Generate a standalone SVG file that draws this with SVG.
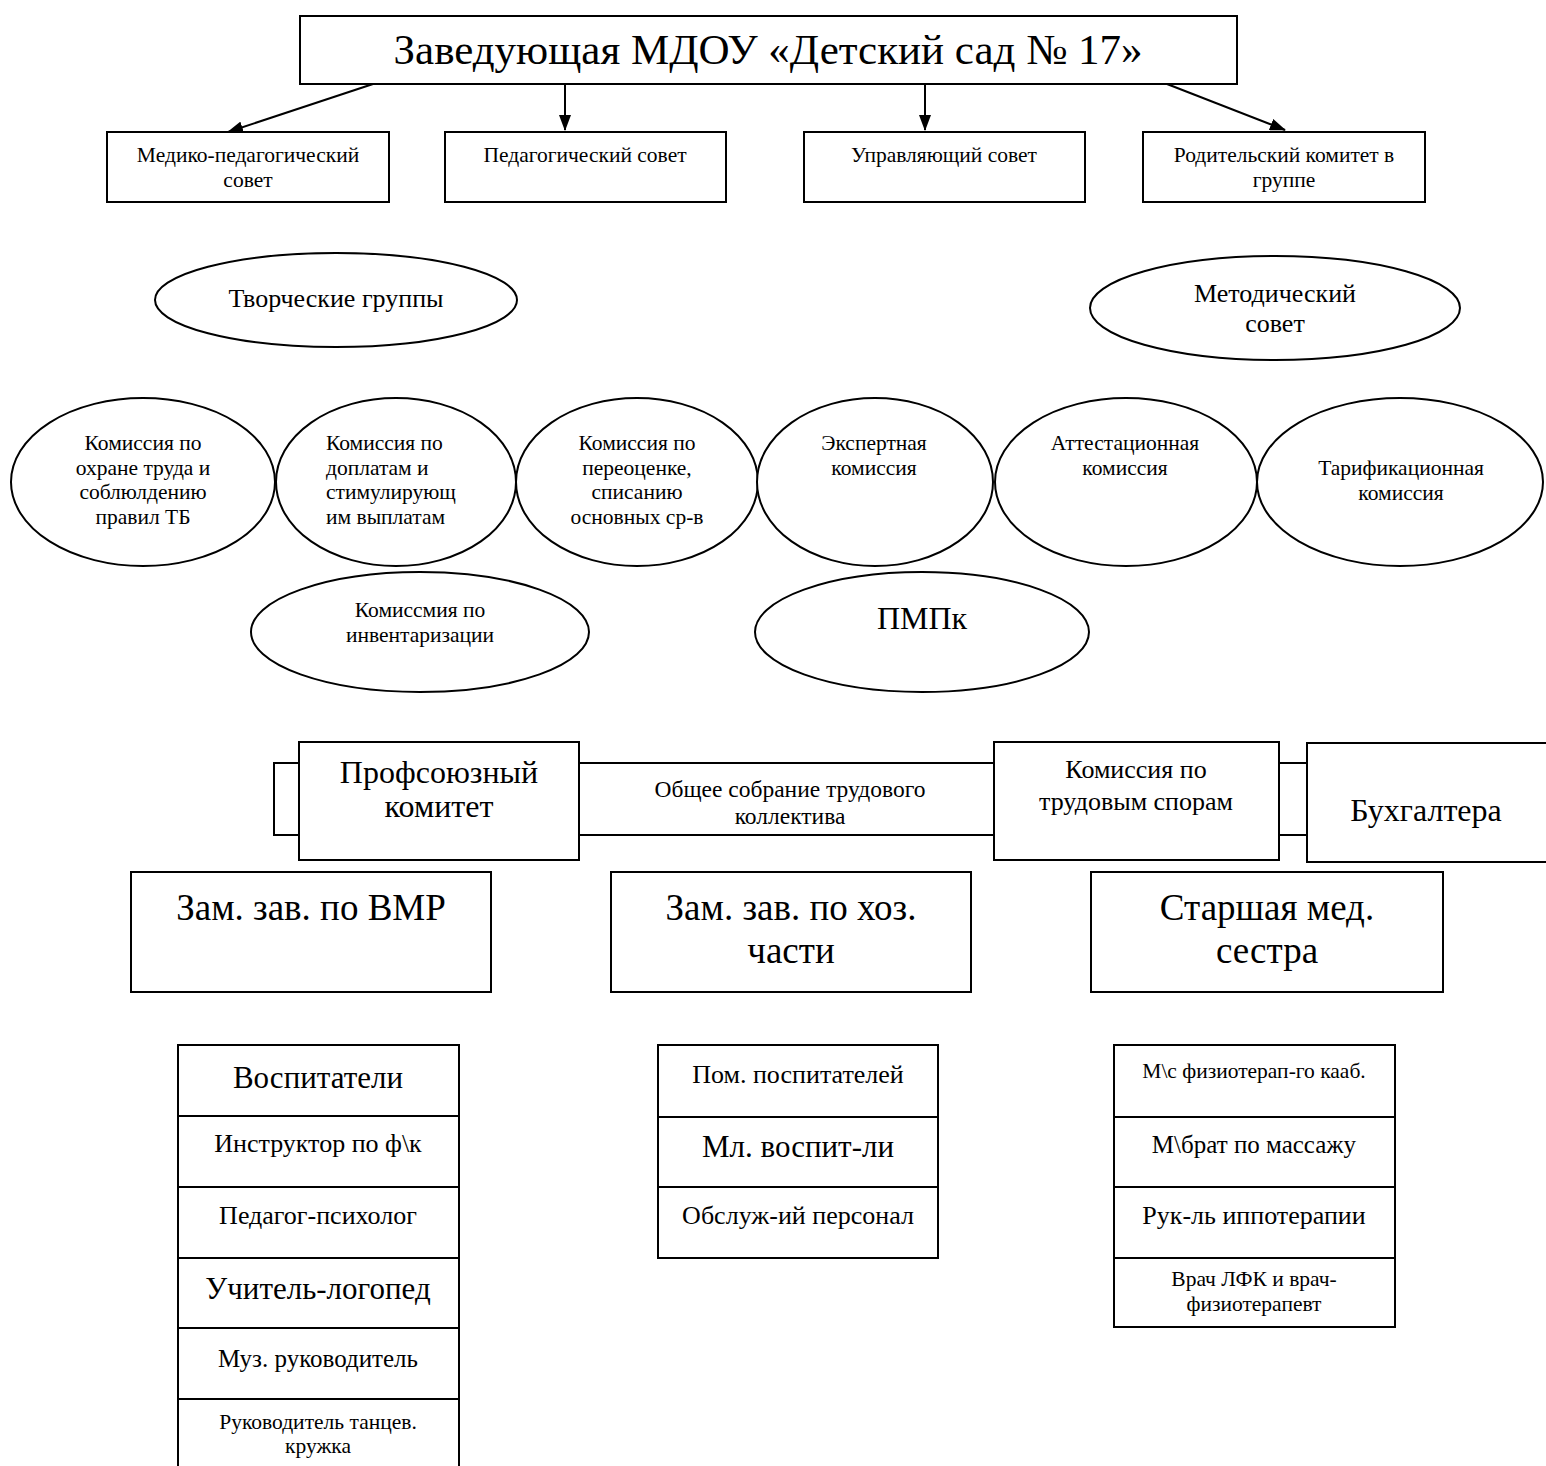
<svg xmlns="http://www.w3.org/2000/svg" width="1546" height="1466" viewBox="0 0 1546 1466">
<defs>
<marker id="ah" markerWidth="16" markerHeight="12" refX="15" refY="6" orient="auto" markerUnits="userSpaceOnUse">
<path d="M0,0 L16,6 L0,12 Z" fill="#000"/>
</marker>
<style>
.b{fill:#fff;stroke:#000;stroke-width:2}
.t{font-family:"Liberation Serif","Times New Roman",serif;fill:#000;text-anchor:middle}
.l{text-anchor:start}
.s43{font-size:43px}.s37{font-size:37px}.s32{font-size:32px}.s31{font-size:31px}.s26{font-size:26px}.s25{font-size:25px}.s23{font-size:23.5px}.s21{font-size:21.5px}
.c{stroke:#000;stroke-width:2;fill:none}
</style>
</defs>
<rect width="1546" height="1466" fill="#fff"/>

<g id="head">
<rect class="b" x="300" y="16" width="937" height="68"/>
<text class="t s43" x="768" y="64">Заведующая МДОУ «Детский сад № 17»</text>
</g>

<g id="connectors">
<line class="c" x1="373" y1="84" x2="228" y2="132" marker-end="url(#ah)"/>
<line class="c" x1="565" y1="84" x2="565" y2="130" marker-end="url(#ah)"/>
<line class="c" x1="925" y1="84" x2="925" y2="130" marker-end="url(#ah)"/>
<line class="c" x1="1167" y1="84" x2="1285" y2="130" marker-end="url(#ah)"/>
</g>

<g id="medped">
<rect class="b" x="107" y="132" width="282" height="70"/>
<text class="t s21" x="248" y="162">Медико-педагогический</text>
<text class="t s21" x="248" y="187">совет</text>
</g>
<g id="pedsovet">
<rect class="b" x="445" y="132" width="281" height="70"/>
<text class="t s21" x="585" y="162">Педагогический совет</text>
</g>
<g id="upravsovet">
<rect class="b" x="804" y="132" width="281" height="70"/>
<text class="t s21" x="944" y="162">Управляющий совет</text>
</g>
<g id="roditkom">
<rect class="b" x="1143" y="132" width="282" height="70"/>
<text class="t s21" x="1284" y="162">Родительский комитет в</text>
<text class="t s21" x="1284" y="187">группе</text>
</g>

<g id="tvorch">
<ellipse class="b" cx="336" cy="300" rx="181" ry="47"/>
<text class="t s26" x="336" y="307">Творческие группы</text>
</g>
<g id="metodsovet">
<ellipse class="b" cx="1275" cy="308" rx="185" ry="52"/>
<text class="t s26" x="1275" y="302">Методический</text>
<text class="t s26" x="1275" y="332">совет</text>
</g>

<g id="kom-ohrana">
<ellipse class="b" cx="143" cy="482" rx="132" ry="84"/>
<text class="t s21" x="143" y="450">Комиссия по</text>
<text class="t s21" x="143" y="475">охране труда и</text>
<text class="t s21" x="143" y="499">соблюлдению</text>
<text class="t s21" x="143" y="524">правил ТБ</text>
</g>
<g id="kom-doplaty">
<ellipse class="b" cx="396" cy="482" rx="120" ry="84"/>
<text class="t s21 l" x="326" y="450">Комиссия по</text>
<text class="t s21 l" x="326" y="475">доплатам и</text>
<text class="t s21 l" x="326" y="499">стимулирующ</text>
<text class="t s21 l" x="326" y="524">им выплатам</text>
</g>
<g id="kom-pereocenka">
<ellipse class="b" cx="637" cy="482" rx="121" ry="84"/>
<text class="t s21" x="637" y="450">Комиссия по</text>
<text class="t s21" x="637" y="475">переоценке,</text>
<text class="t s21" x="637" y="499">списанию</text>
<text class="t s21" x="637" y="524">основных ср-в</text>
</g>
<g id="kom-ekspert">
<ellipse class="b" cx="875" cy="482" rx="118" ry="84"/>
<text class="t s21" x="874" y="450">Экспертная</text>
<text class="t s21" x="874" y="475">комиссия</text>
</g>
<g id="kom-attest">
<ellipse class="b" cx="1126" cy="482" rx="131" ry="84"/>
<text class="t s21" x="1125" y="450">Аттестационная</text>
<text class="t s21" x="1125" y="475">комиссия</text>
</g>
<g id="kom-tarif">
<ellipse class="b" cx="1400" cy="482" rx="143" ry="84"/>
<text class="t s21" x="1401" y="475">Тарификационная</text>
<text class="t s21" x="1401" y="500">комиссия</text>
</g>
<g id="kom-invent">
<ellipse class="b" cx="420" cy="632" rx="169" ry="60"/>
<text class="t s21" x="420" y="617">Комиссмия по</text>
<text class="t s21" x="420" y="642">инвентаризации</text>
</g>
<g id="pmpk">
<ellipse class="b" cx="922" cy="632" rx="167" ry="60"/>
<text class="t s32" x="922" y="629">ПМПк</text>
</g>

<g id="obschee">
<rect class="b" x="274" y="763" width="1033" height="72"/>
<text class="t s23" x="790" y="797">Общее собрание трудового</text>
<text class="t s23" x="790" y="824">коллектива</text>
</g>
<g id="profkom">
<rect class="b" x="299" y="742" width="280" height="118"/>
<text class="t s32" x="439" y="783">Профсоюзный</text>
<text class="t s32" x="439" y="817">комитет</text>
</g>
<g id="kom-spory">
<rect class="b" x="994" y="742" width="285" height="118"/>
<text class="t s26" x="1136" y="778">Комиссия по</text>
<text class="t s26" x="1136" y="810">трудовым спорам</text>
</g>
<g id="buh">
<rect class="b" x="1307" y="743" width="250" height="119"/>
<text class="t s32" x="1426" y="821">Бухгалтера</text>
</g>

<g id="zam-vmr">
<rect class="b" x="131" y="872" width="360" height="120"/>
<text class="t s37" x="311" y="920">Зам. зав. по ВМР</text>
</g>
<g id="zam-hoz">
<rect class="b" x="611" y="872" width="360" height="120"/>
<text class="t s37" x="791" y="920">Зам. зав. по хоз.</text>
<text class="t s37" x="791" y="963">части</text>
</g>
<g id="st-medsestra">
<rect class="b" x="1091" y="872" width="352" height="120"/>
<text class="t s37" x="1267" y="920">Старшая мед.</text>
<text class="t s37" x="1267" y="963">сестра</text>
</g>

<g id="list-vmr">
<rect class="b" x="178" y="1045" width="281" height="71"/>
<text class="t s31" x="318" y="1088">Воспитатели</text>
<rect class="b" x="178" y="1116" width="281" height="71"/>
<text class="t s26" x="318" y="1152">Инструктор по ф\к</text>
<rect class="b" x="178" y="1187" width="281" height="71"/>
<text class="t s26" x="318" y="1224">Педагог-психолог</text>
<rect class="b" x="178" y="1258" width="281" height="70"/>
<text class="t s31" x="318" y="1299">Учитель-логопед</text>
<rect class="b" x="178" y="1328" width="281" height="71"/>
<text class="t s25" x="318" y="1367">Муз. руководитель</text>
<rect class="b" x="178" y="1399" width="281" height="80"/>
<text class="t s21" x="318" y="1429">Руководитель танцев.</text>
<text class="t s21" x="318" y="1453">кружка</text>
</g>

<g id="list-hoz">
<rect class="b" x="658" y="1045" width="280" height="72"/>
<text class="t s26" x="798" y="1083">Пом. поспитателей</text>
<rect class="b" x="658" y="1117" width="280" height="70"/>
<text class="t s31" x="798" y="1157">Мл. воспит-ли</text>
<rect class="b" x="658" y="1187" width="280" height="71"/>
<text class="t s26" x="798" y="1224">Обслуж-ий персонал</text>
</g>

<g id="list-med">
<rect class="b" x="1114" y="1045" width="281" height="72"/>
<text class="t s21" x="1254" y="1078">М\с физиотерап-го кааб.</text>
<rect class="b" x="1114" y="1117" width="281" height="70"/>
<text class="t s25" x="1254" y="1153">М\брат по массажу</text>
<rect class="b" x="1114" y="1187" width="281" height="71"/>
<text class="t s26" x="1254" y="1224">Рук-ль иппотерапии</text>
<rect class="b" x="1114" y="1258" width="281" height="69"/>
<text class="t s21" x="1254" y="1286">Врач ЛФК и врач-</text>
<text class="t s21" x="1254" y="1311">физиотерапевт</text>
</g>
</svg>
